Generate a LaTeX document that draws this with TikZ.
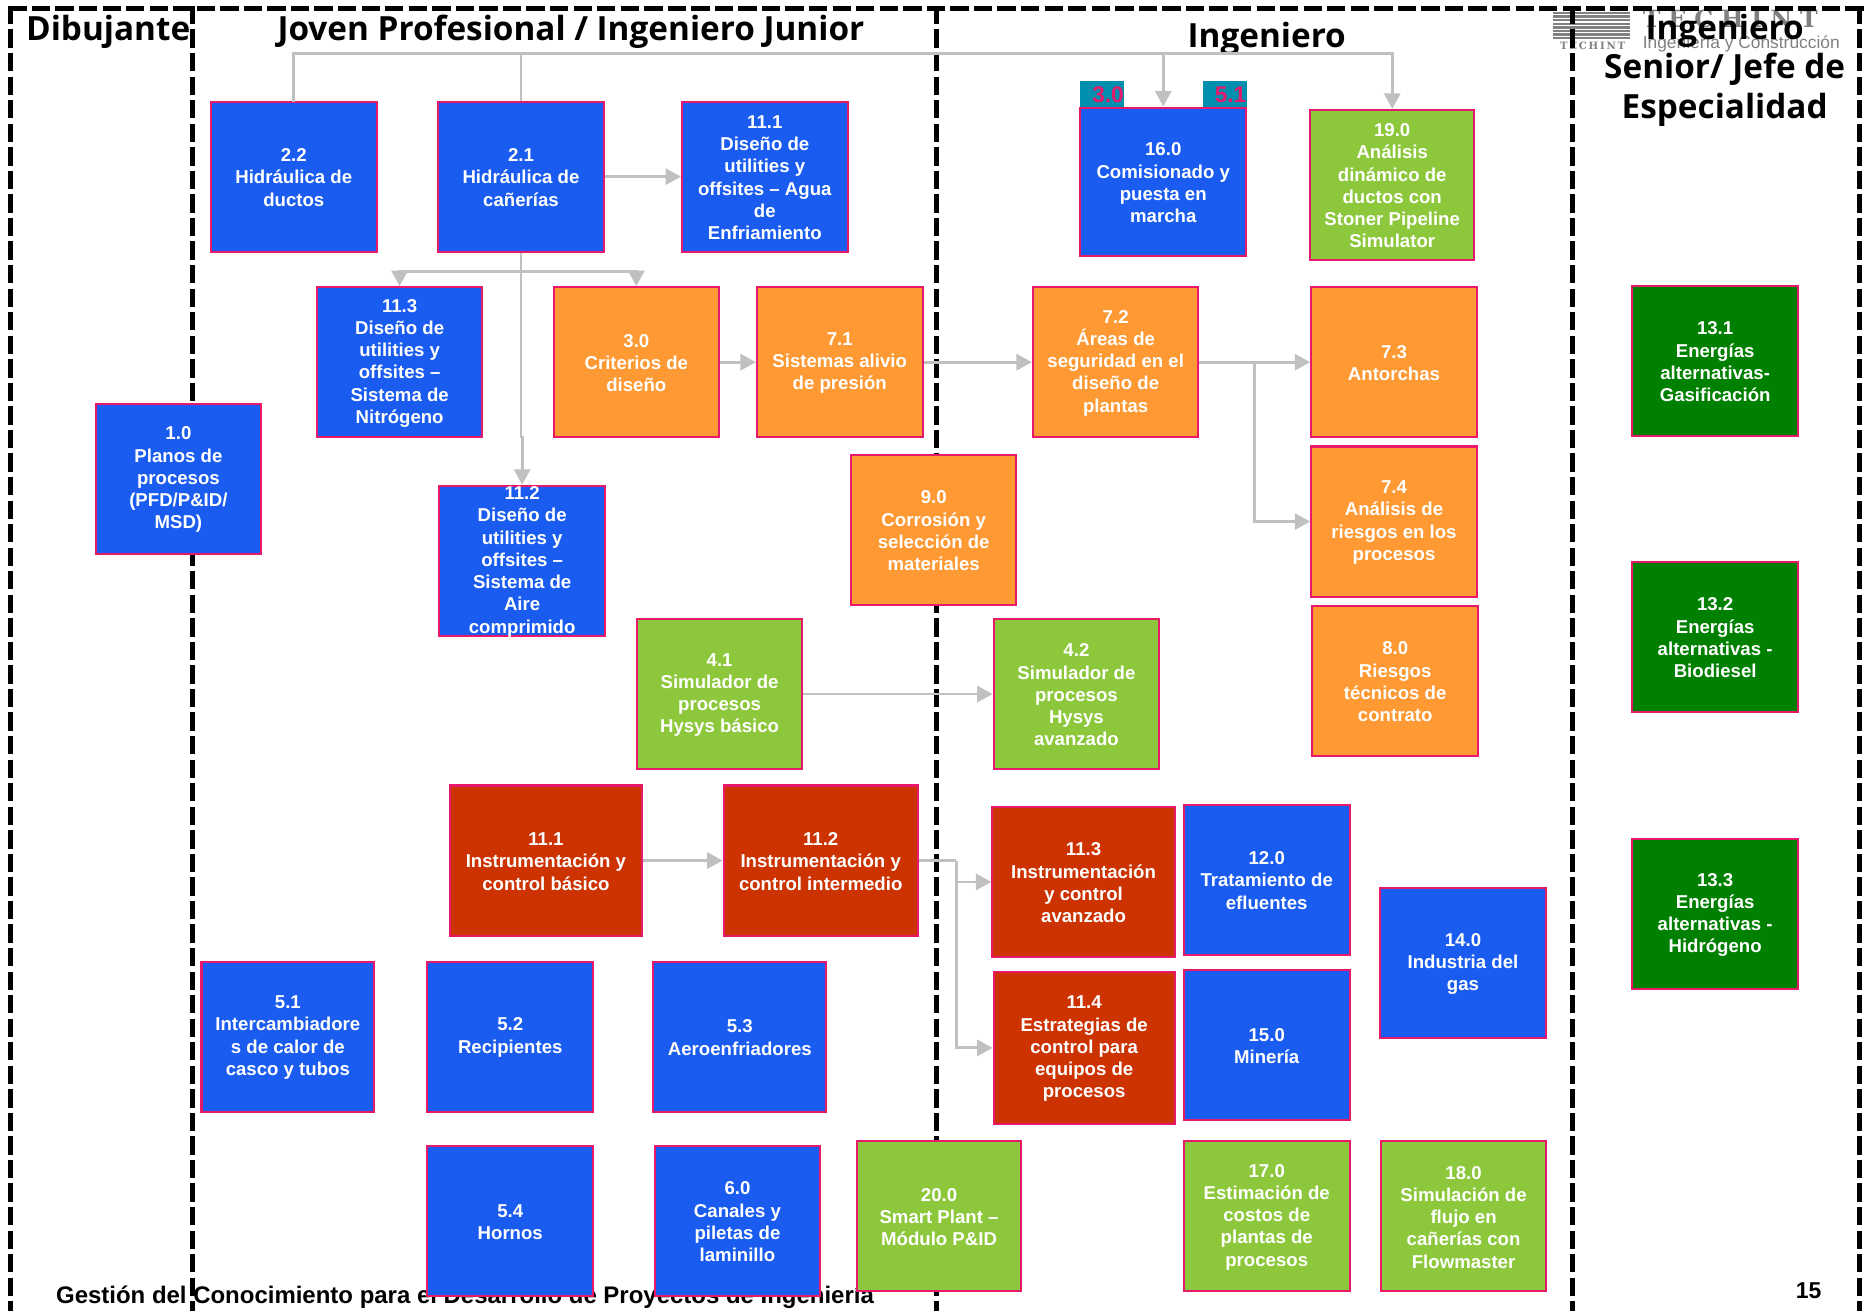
\documentclass[tikz,border=0pt]{standalone}
\usepackage{fontspec}
\setmainfont{Liberation Sans}
\newfontfamily\headfont{Open Sans}
\newfontfamily\logobigfont[LetterSpace=33]{DejaVu Serif}
\newfontfamily\logosmallfont[LetterSpace=18]{DejaVu Serif}
\usetikzlibrary{arrows.meta}
\definecolor{cblue}{HTML}{1A5CF0}
\definecolor{corange}{HTML}{FF9933}
\definecolor{cgreen}{HTML}{8DC83C}
\definecolor{cred}{HTML}{CC3300}
\definecolor{cdark}{HTML}{008000}
\definecolor{cteal}{HTML}{008FAF}
\definecolor{cedge}{HTML}{E8186A}
\definecolor{carrow}{HTML}{C0C0C0}
\definecolor{clogo}{HTML}{808080}
\tikzset{
  x=1pt,y=-1pt,
  boxb/.style={draw=cedge,line width=1.7pt,inner sep=0pt},
  boxt/.style={inner sep=0pt,align=center,text=white,
    font=\fontsize{15.65}{18.7}\selectfont\bfseries},
  heading/.style={inner sep=0pt,align=center,text=black,
    font=\fontsize{28}{33}\selectfont\headfont\bfseries},
  flow/.style={draw=carrow,line width=2.4pt,-{Triangle[length=13pt,width=13.5pt]}},
  flowp/.style={draw=carrow,line width=2.4pt},
  lane/.style={draw=black,line width=4.2pt,dash pattern=on 15.4pt off 4.4pt},
  tabb/.style={fill=cteal,inner sep=0pt},
  tabt/.style={inner sep=0pt,text=cedge,font=\fontsize{19}{22}\selectfont\bfseries}
}
\newcommand{\bx}[7]{%
  \node[boxb,fill=#6,minimum width={(#4-#2-0.8)*1pt},minimum height={(#5-#3-0.8)*1pt}] (#1)
    at ({(#2+#4)/2},{(#3+#5)/2}) {};
  \node[boxt] (#1t) at ([yshift=-0.8pt]#1.center) {#7};}
\begin{document}
\begin{tikzpicture}
\useasboundingbox (0,0) rectangle (1568,1102);
\fill[white] (0,0) rectangle (1568,1102);
% logo
\foreach \yy in {10,13,16,19,22,25,28,31}{\fill[clogo] (1306,\yy) rectangle (1370,\yy+2);}
\node[inner sep=0pt,text=clogo,font=\fontsize{8.5}{11}\selectfont\logosmallfont\bfseries,anchor=base] (logosmall) at (1339,42) {TECHINT};
\node[inner sep=0pt,text=clogo,font=\fontsize{20}{23}\selectfont\logobigfont\bfseries,anchor=base west] (logobig) at (1381,23) {TECHINT};
\node[inner sep=0pt,text=clogo,font=\fontsize{14.6}{16}\selectfont,anchor=base west] (logosub) at (1381,41) {Ingeniería y Construcción};
% lanes
\coordinate (h0) at (7,7); \coordinate (h1) at (1568,7);
\coordinate (t0) at (9,5); \coordinate (t1) at (161.5,5); \coordinate (t2) at (787,5);
\coordinate (t3) at (1322,5); \coordinate (t4) at (1563,5);
\coordinate (b0) at (9,1102); \coordinate (b1) at (161.5,1102); \coordinate (b2) at (787,1102);
\coordinate (b3) at (1322,1102); \coordinate (b4) at (1563,1102);
\draw[lane] (h0) -- (h1);
\foreach \i in {0,...,4}{\draw[lane] (t\i) -- (b\i);}
% footer
\node[inner sep=0pt,anchor=base west,font=\fontsize{20.15}{22}\selectfont\bfseries] (foot) at (47,1096) {Gestión del Conocimiento para el Desarrollo de Proyectos de Ingeniería};
\node[inner sep=0pt,anchor=base,font=\fontsize{19.3}{22}\selectfont\bfseries] (page) at (1520.5,1092) {15};
% headings
\node[heading] (h1t) at (91,27) {Dibujante};
\node[heading] (h2t) at (480,27) {Joven Profesional / Ingeniero Junior};
\node[heading] (h3t) at (1065,33) {Ingeniero};
\node[heading] (h4t) at (1450,59) {Ingeniero\\Senior/ Jefe de\\Especialidad};
% tabs
\node[tabb,minimum width=37pt,minimum height=22pt] (tabA) at (926.5,79) {};
\node[tabb,minimum width=37pt,minimum height=22pt] (tabB) at (1029.5,79) {};
\node[tabt,anchor=east] (tabAt) at (945,80) {3.0};
\node[tabt,anchor=east] (tabBt) at (1048,80) {5.1};
% boxes
\bx{a10}{80}{339}{220}{466}{cblue}{1.0\\Planos de\\procesos\\(PFD/P\&ID/\\MSD)}
\bx{a22}{177}{85}{317}{212}{cblue}{2.2\\Hidráulica de\\ductos}
\bx{a21}{368}{85}{508}{212}{cblue}{2.1\\Hidráulica de\\cañerías}
\bx{a111}{573}{85}{713}{212}{cblue}{11.1\\Diseño de\\utilities y\\offsites – Agua\\de\\Enfriamiento}
\bx{a160}{908}{90}{1048}{216}{cblue}{16.0\\Comisionado y\\puesta en\\marcha}
\bx{a190}{1101}{92}{1240}{219}{cgreen}{19.0\\Análisis\\dinámico de\\ductos con\\Stoner Pipeline\\Simulator}
\bx{a113}{266}{241}{406}{368}{cblue}{11.3\\Diseño de\\utilities y\\offsites –\\Sistema de\\Nitrógeno}
\bx{a30}{465}{241}{605}{368}{corange}{3.0\\Criterios de\\diseño}
\bx{a71}{636}{241}{776}{368}{corange}{7.1\\Sistemas alivio\\de presión}
\bx{a72}{868}{241}{1008}{368}{corange}{7.2\\Áreas de\\seguridad en el\\diseño de\\plantas}
\bx{a73}{1102}{241}{1242}{368}{corange}{7.3\\Antorchas}
\bx{a74}{1102}{375}{1242}{502}{corange}{7.4\\Análisis de\\riesgos en los\\procesos}
\bx{a90}{715}{382}{855}{509}{corange}{9.0\\Corrosión y\\selección de\\materiales}
\bx{a112}{369}{408}{509}{535}{cblue}{11.2\\Diseño de\\utilities y\\offsites –\\Sistema de\\Aire\\comprimido}
\bx{a80}{1103}{509}{1243}{636}{corange}{8.0\\Riesgos\\técnicos de\\contrato}
\bx{a41}{535}{520}{675}{647}{cgreen}{4.1\\Simulador de\\procesos\\Hysys básico}
\bx{a42}{835}{520}{975}{647}{cgreen}{4.2\\Simulador de\\procesos\\Hysys\\avanzado}
\bx{a131}{1372}{240}{1512}{367}{cdark}{13.1\\Energías\\alternativas-\\Gasificación}
\bx{a132}{1372}{472}{1512}{599}{cdark}{13.2\\Energías\\alternativas -\\Biodiesel}
\bx{a133}{1372}{705}{1512}{832}{cdark}{13.3\\Energías\\alternativas -\\Hidrógeno}
\bx{r111}{378}{660}{540}{787}{cred}{11.1\\Instrumentación y\\control básico}
\bx{r112}{608}{660}{772}{787}{cred}{11.2\\Instrumentación y\\control intermedio}
\bx{r113}{834}{678}{988}{805}{cred}{11.3\\Instrumentación\\y control\\avanzado}
\bx{a120}{995}{676}{1135}{803}{cblue}{12.0\\Tratamiento de\\efluentes}
\bx{a140}{1160}{746}{1300}{873}{cblue}{14.0\\Industria del\\gas}
\bx{a51}{169}{808}{315}{935}{cblue}{5.1\\Intercambiadore\\s de calor de\\casco y tubos}
\bx{a52}{359}{808}{499}{935}{cblue}{5.2\\Recipientes}
\bx{a53}{549}{808}{695}{935}{cblue}{5.3\\Aeroenfriadores}
\bx{r114}{835}{817}{988}{945}{cred}{11.4\\Estrategias de\\control para\\equipos de\\procesos}
\bx{a150}{995}{815}{1135}{942}{cblue}{15.0\\Minería}
\bx{a54}{359}{963}{499}{1090}{cblue}{5.4\\Hornos}
\bx{a60}{550}{963}{690}{1090}{cblue}{6.0\\Canales y\\piletas de\\laminillo}
\bx{a200}{720}{959}{859}{1086}{cgreen}{20.0\\Smart Plant –\\Módulo P\&ID}
\bx{a170}{995}{959}{1135}{1086}{cgreen}{17.0\\Estimación de\\costos de\\plantas de\\procesos}
\bx{a180}{1161}{959}{1300}{1086}{cgreen}{18.0\\Simulación de\\flujo en\\cañerías con\\Flowmaster}
% connectors
\coordinate (busy) at (0,45);
\coordinate (split) at (0,228);
\coordinate (jog) at (0,368);
\draw[flowp,line cap=rect] (a22.north) -- (a22.north |- busy) -- (a190.north |- busy);
\draw[flowp] (a21.north) -- (a21.north |- busy);
\draw[flow] (a160.north |- busy) -- (a160.north);
\draw[flow] (a190.north |- busy) -- (a190.north);
\draw[flow] (a21.east) -- (a21.east -| a111.west);
\draw[flowp] (a21.south) -- (a21.south |- jog);
\draw[flow] (a21.south |- jog) -- (a112.north |- jog) -- (a112.north);
\draw[flow] (a21.south |- split) -| (a113.north);
\draw[flow] (a21.south |- split) -| (a30.north);
\draw[flow] (a30.east) -- (a71.west);
\draw[flow] (a71.east) -- (a72.west);
\draw[flow] (a72.east) -- (a73.west);
\coordinate (jA) at (1055,304);
\draw[flow] (jA) |- (a74.west);
\draw[flow] (a41.east) -- (a42.west);
\draw[flow] (r111.east) -- (r112.west);
\coordinate (jB) at (804,723.5);
\draw[flowp] (r112.east) -- (jB);
\draw[flow] (jB) |- (r113.west);
\draw[flow] (jB) |- (r114.west);
\end{tikzpicture}
\end{document}
